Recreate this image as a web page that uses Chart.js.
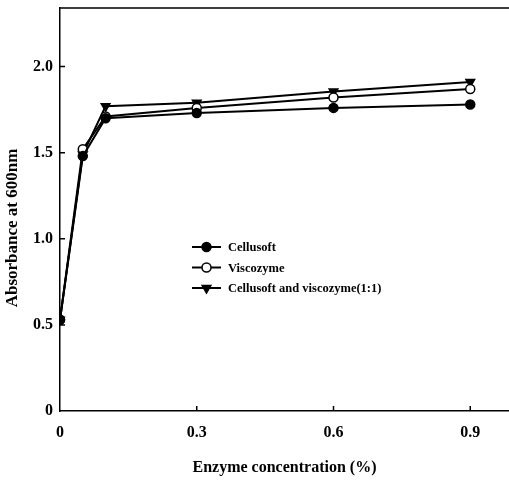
<!DOCTYPE html>
<html>
<head>
<meta charset="utf-8">
<script src="https://cdn.jsdelivr.net/npm/chart.js@4"></script>
<style>
  html, body { margin: 0; padding: 0; background: #fff; }
  #wrap { width: 509px; height: 480px; }
</style>
</head>
<body>
<div id="wrap"><canvas id="absChart"></canvas></div>
<script>
const concentrations = [0, 0.05, 0.1, 0.3, 0.6, 0.9];
const cellusoft = [0.53, 1.48, 1.70, 1.73, 1.76, 1.78];
const viscozyme = [0.53, 1.52, 1.71, 1.76, 1.82, 1.87];
const mixture = [0.53, 1.49, 1.77, 1.79, 1.855, 1.91];
const seriesNames = ["Cellusoft", "Viscozyme", "Cellusoft and viscozyme(1:1)"];
const xTicks = [0, 0.3, 0.6, 0.9];
const yTicks = [0, 0.5, 1.0, 1.5, 2.0];
const yTitle = "Absorbance at 600nm";

const FONT = "'Liberation Serif', 'Times New Roman', serif";

function toPoints(ys) {
    return concentrations.map((x, i) => ({ x: x, y: ys[i] }));
}

function fmt(v) {
    return v === 0 ? "0" : v.toFixed(1);
}

// small inward ticks, top frame line, y title and the legend inside the plot
const framePlugin = {
    id: "frame",
    afterDraw(chart) {
        const ctx = chart.ctx;
        const area = chart.chartArea;
        const xs = chart.scales.x, ys = chart.scales.y;
        ctx.save();
        ctx.strokeStyle = "#000";
        ctx.lineWidth = 1.5;
        ctx.beginPath();
        ctx.moveTo(area.left, area.top);
        ctx.lineTo(area.right, area.top);
        xTicks.forEach(v => {
            if (v === 0) return;
            const px = xs.getPixelForValue(v);
            ctx.moveTo(px, area.bottom);
            ctx.lineTo(px, area.bottom - 5);
        });
        yTicks.forEach(v => {
            if (v === 0) return;
            const py = ys.getPixelForValue(v);
            ctx.moveTo(area.left, py);
            ctx.lineTo(area.left + 5, py);
        });
        ctx.stroke();

        // y axis title, sits a bit below the middle of the axis in the original
        ctx.save();
        ctx.translate(13, 228);
        ctx.rotate(-Math.PI / 2);
        ctx.font = "bold 17px " + FONT;
        ctx.textAlign = "center";
        ctx.textBaseline = "middle";
        ctx.fillStyle = "#000";
        ctx.fillText(yTitle, 0, 0);
        ctx.restore();

        // legend
        const lx = 192, ly = 247, gap = 20.5;
        ctx.font = "bold 12.5px " + FONT;
        ctx.textBaseline = "middle";
        chart.data.datasets.forEach((ds, i) => {
            const y = ly + i * gap;
            ctx.strokeStyle = "#000";
            ctx.lineWidth = 2;
            ctx.beginPath();
            ctx.moveTo(lx, y);
            ctx.lineTo(lx + 29, y);
            ctx.stroke();
            ctx.fillStyle = ds.pointBackgroundColor;
            ctx.lineWidth = ds.pointBorderWidth;
            Chart.helpers.drawPoint(ctx, {
                pointStyle: ds.pointStyle,
                rotation: ds.pointRotation || 0,
                radius: ds.pointRadius,
                borderWidth: ds.pointBorderWidth
            }, lx + 14.5, y);
            ctx.fillStyle = "#000";
            ctx.fillText(ds.label, lx + 36, y + 1);
        });
        ctx.restore();
    }
};

const ctx = document.getElementById("absChart").getContext("2d");

window.myChart = new Chart(ctx, {
    type: "line",
    data: {
        datasets: [{
            label: seriesNames[0],
            data: toPoints(cellusoft),
            borderColor: "#000",
            borderWidth: 2,
            pointStyle: "circle",
            pointRadius: 4.5,
            pointBackgroundColor: "#000",
            pointBorderColor: "#000",
            pointBorderWidth: 1.5
        }, {
            label: seriesNames[1],
            data: toPoints(viscozyme),
            borderColor: "#000",
            borderWidth: 2,
            pointStyle: "circle",
            pointRadius: 4.5,
            pointBackgroundColor: "#fff",
            pointBorderColor: "#000",
            pointBorderWidth: 1.5
        }, {
            label: seriesNames[2],
            data: toPoints(mixture),
            borderColor: "#000",
            borderWidth: 2,
            pointStyle: "triangle",
            pointRotation: 180,
            pointRadius: 5,
            pointBackgroundColor: "#000",
            pointBorderColor: "#000",
            pointBorderWidth: 1.5
        }]
    },
    options: {
        responsive: true,
        maintainAspectRatio: false,
        animation: false,
        layout: {
            autoPadding: false,
            padding: { top: 8, right: 0, left: 0, bottom: 0 }
        },
        plugins: {
            legend: { display: false },
            tooltip: { enabled: false }
        },
        scales: {
            x: {
                type: "linear",
                min: 0,
                max: 0.985,
                afterFit: s => {
                    s.height = 69;
                    s.paddingLeft = 0;
                    s.paddingRight = 0;
                },
                afterBuildTicks: s => { s.ticks = xTicks.map(v => ({ value: v })); },
                grid: { display: false, drawTicks: false },
                border: { display: true, color: "#000", width: 1.5 },
                ticks: {
                    color: "#000",
                    padding: 12,
                    maxRotation: 0,
                    font: { family: FONT, size: 16, weight: "bold" },
                    callback: v => fmt(v)
                },
                title: {
                    display: true,
                    text: "Enzyme concentration (%)",
                    color: "#000",
                    padding: { bottom: 3 },
                    font: { family: FONT, size: 16, weight: "bold" }
                }
            },
            y: {
                min: 0,
                max: 2.34,
                afterFit: s => {
                    s.width = 60;
                    s.paddingTop = 0;
                    s.paddingBottom = 0;
                },
                afterBuildTicks: s => { s.ticks = yTicks.map(v => ({ value: v })); },
                grid: { display: false, drawTicks: false },
                border: { display: true, color: "#000", width: 1.5 },
                ticks: {
                    color: "#000",
                    padding: 7,
                    font: { family: FONT, size: 16, weight: "bold" },
                    callback: v => fmt(v)
                }
            }
        }
    },
    plugins: [framePlugin]
});
</script>
</body>
</html>
